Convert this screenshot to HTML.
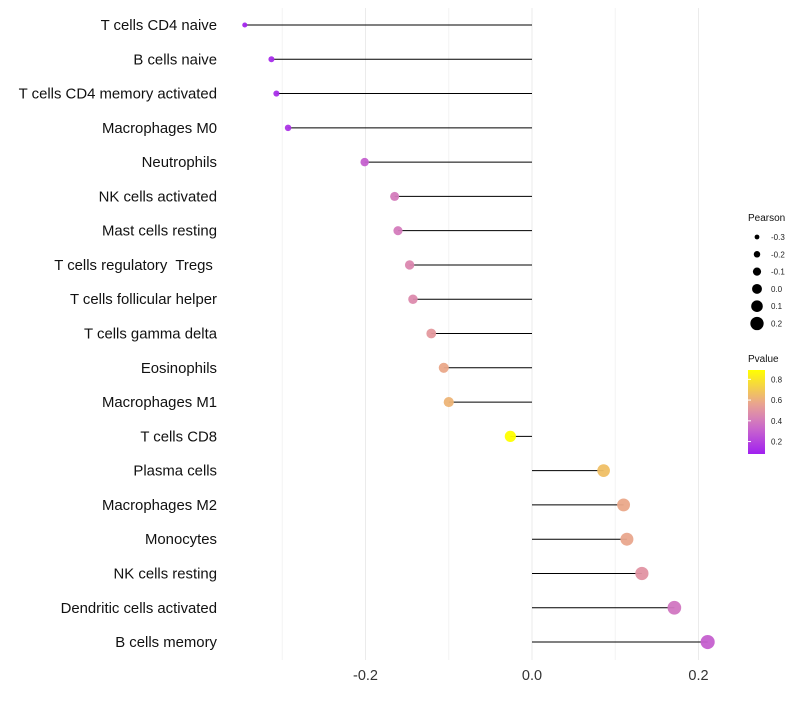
<!DOCTYPE html>
<html><head><meta charset="utf-8"><style>
body{margin:0;background:#fff;font-family:"Liberation Sans",sans-serif;}
text{white-space:pre;}
</style></head><body>
<svg id="chart" width="800" height="700" xmlns="http://www.w3.org/2000/svg">
<g id="grid"></g><g id="marks"></g><g id="labels"></g><g id="legend"></g>
</svg>
<script>
const categories=["T cells CD4 naive","B cells naive","T cells CD4 memory activated","Macrophages M0","Neutrophils","NK cells activated","Mast cells resting","T cells regulatory  Tregs ","T cells follicular helper","T cells gamma delta","Eosinophils","Macrophages M1","T cells CD8","Plasma cells","Macrophages M2","Monocytes","NK cells resting","Dendritic cells activated","B cells memory"];
const pearson=[-0.345,-0.313,-0.307,-0.293,-0.201,-0.165,-0.161,-0.147,-0.143,-0.121,-0.106,-0.100,-0.026,0.086,0.110,0.114,0.132,0.171,0.211];
const pvalue=[0.1,0.12,0.13,0.15,0.3,0.4,0.4,0.45,0.46,0.52,0.58,0.62,0.9,0.66,0.58,0.57,0.5,0.38,0.3];
const xTicks=[-0.2,0.0,0.2];
const sizeLegend=[-0.3,-0.2,-0.1,0.0,0.1,0.2];
const colorTicks=[0.2,0.4,0.6,0.8];
const NS="http://www.w3.org/2000/svg";
const x=v=>532+v*832.5;
const y=i=>25+i*34.28;
const r=v=>Math.sqrt(Math.max(1.7,9+78*(v+0.313)));
function lerp(a,b,t){return a.map((c,i)=>Math.round(c+(b[i]-c)*t));}
const stops=[[0.08,[160,32,240]],[0.35,[205,110,200]],[0.55,[232,160,150]],[0.89,[255,255,0]]];
function col(p){if(p<=stops[0][0])return 'rgb('+stops[0][1]+')';for(let k=1;k<stops.length;k++){if(p<=stops[k][0]){const t=(p-stops[k-1][0])/(stops[k][0]-stops[k-1][0]);return 'rgb('+lerp(stops[k-1][1],stops[k][1],t)+')';}}return 'rgb('+stops[stops.length-1][1]+')';}
function mk(tag,attrs,parent,text){const e=document.createElementNS(NS,tag);for(const k in attrs)e.setAttribute(k,attrs[k]);if(text!==undefined)e.textContent=text;document.getElementById(parent).appendChild(e);return e;}
[-0.3,-0.1,0.1].forEach(v=>{const e=mk('line',{x1:x(v),x2:x(v),y1:8,y2:660,stroke:'#f4f4f4','stroke-width':1},'grid');

});
xTicks.forEach(v=>{const e=mk('line',{x1:x(v),x2:x(v),y1:8,y2:660,stroke:'#ebebeb','stroke-width':1},'grid');


const t=mk('text',{x:x(v),y:680,'text-anchor':'middle','font-size':14.5,fill:'#333'},'labels',v.toFixed(1));

});
categories.forEach((c,i)=>{
const l=mk('line',{x1:x(0),x2:x(pearson[i]),y1:y(i),y2:y(i),stroke:'#000','stroke-width':1},'marks');


const d=mk('circle',{cx:x(pearson[i]),cy:y(i),r:r(pearson[i]),fill:col(pvalue[i]),'fill-opacity':0.95},'marks');


const t=mk('text',{x:217,y:y(i)+5,'text-anchor':'end','font-size':14.9,fill:'#111'},'labels',c);

});
let t=mk('text',{x:748,y:221,'font-size':10,fill:'#111'},'legend','Pearson');


sizeLegend.forEach((v,k)=>{const cy=237+k*17.3;
const c=mk('circle',{cx:757,cy:cy,r:2.4+k*0.85,fill:'#000'},'legend');


const s=mk('text',{x:771,y:cy+3,'font-size':8,fill:'#222'},'legend',v.toFixed(1));

});
t=mk('text',{x:748,y:362,'font-size':10,fill:'#111'},'legend','Pvalue');


const defs=mk('defs',{},'legend');
const g=document.createElementNS(NS,'linearGradient');g.setAttribute('id','pg');g.setAttribute('x1','0');g.setAttribute('y1','1');g.setAttribute('x2','0');g.setAttribute('y2','0');defs.appendChild(g);
for(let k=0;k<=10;k++){const p=0.08+k*0.081;const s=document.createElementNS(NS,'stop');s.setAttribute('offset',k/10);s.setAttribute('stop-color',col(p));g.appendChild(s);}
const bar=mk('rect',{x:748,y:370,width:17,height:84,fill:'url(#pg)'},'legend');


colorTicks.forEach(v=>{const cy=454-(v-0.08)/0.81*84;
const s=mk('text',{x:771,y:cy+3,'font-size':8,fill:'#222'},'legend',v.toFixed(1));


const tk=mk('line',{x1:748,x2:751,y1:cy,y2:cy,stroke:'#fff'},'legend');

});
</script>
</body></html>
